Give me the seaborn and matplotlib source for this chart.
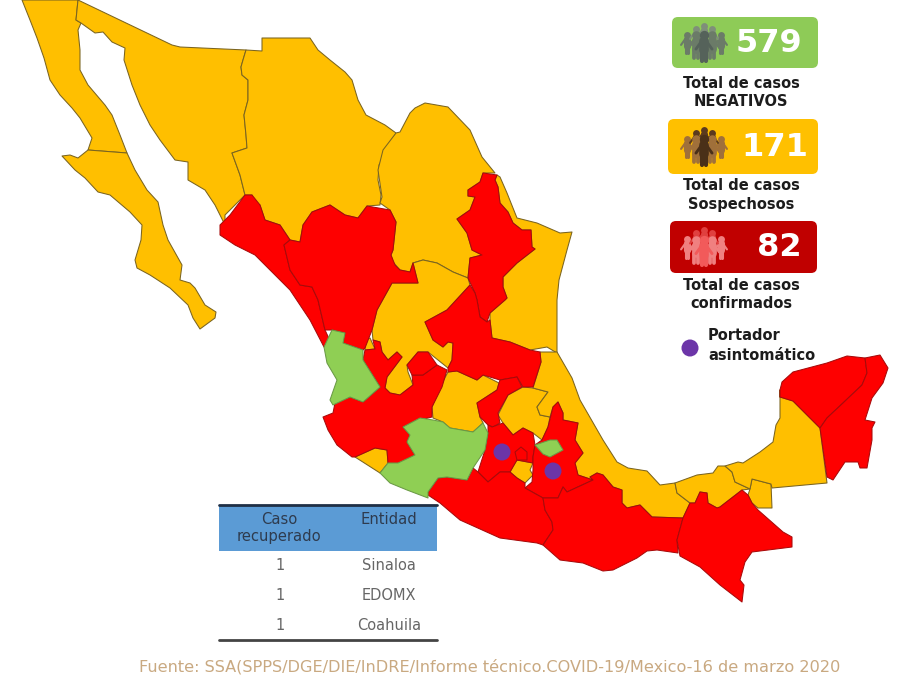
import pandas as pd
import matplotlib.pyplot as plt
from matplotlib.patches import FancyBboxPatch, Rectangle
import seaborn as sns

# estatus por estado
state_status = {
    'Baja California': 'sospechoso', 'Baja California Sur': 'sospechoso', 'Sonora': 'sospechoso',
    'Chihuahua': 'sospechoso', 'Coahuila': 'sospechoso', 'Tamaulipas': 'sospechoso',
    'Zacatecas': 'sospechoso', 'Zacatecas oeste': 'sospechoso', 'Guanajuato': 'sospechoso',
    'Hidalgo': 'sospechoso', 'Colima': 'sospechoso', 'Morelos': 'sospechoso',
    'Veracruz': 'sospechoso', 'Tabasco': 'sospechoso', 'Tabasco este': 'sospechoso',
    'Campeche': 'sospechoso', 'Sinaloa': 'confirmado', 'Durango': 'confirmado',
    'Nuevo Leon': 'confirmado', 'San Luis Potosi': 'confirmado', 'Jalisco': 'confirmado',
    'Aguascalientes': 'confirmado', 'Queretaro': 'confirmado', 'Edomex': 'confirmado',
    'CDMX': 'confirmado', 'Puebla': 'confirmado', 'Guerrero': 'confirmado', 'Oaxaca': 'confirmado',
    'Chiapas': 'confirmado', 'Yucatan': 'confirmado', 'Quintana Roo': 'confirmado',
    'Nayarit': 'negativo', 'Michoacan': 'negativo', 'Tlaxcala': 'negativo',
}

baja_california = [(22, 0), (30, 20), (37, 38), (44, 58), (50, 80), (60, 95), (72, 108), (80, 118), (92, 138), (88, 150),
                   (127, 153), (120, 135), (112, 115), (105, 105), (88, 85), (80, 70), (80, 50), (78, 30), (81, 23), (76, 20), (78, 0)]
baja_california_sur = [(62, 156), (70, 155), (78, 158), (88, 150), (127, 153), (135, 170), (147, 190), (158, 202), (163, 225),
                       (168, 240), (182, 265), (180, 280), (190, 283), (195, 288), (205, 305), (216, 312), (215, 318), (200, 329), (193, 318),
                       (188, 305), (170, 288), (150, 275), (137, 268), (135, 260), (141, 240), (142, 225), (130, 212),
                       (110, 195), (98, 192), (85, 178), (75, 170)]
sonora = [(78, 0), (172, 45), (180, 47), (246, 50), (243, 60), (241, 67), (242, 75), (248, 80), (248, 100), (244, 115),
          (246, 135), (247, 148), (232, 153), (240, 175), (245, 195), (225, 215), (225, 225), (215, 205), (205, 190),
          (188, 180), (188, 162), (175, 160), (160, 140), (150, 125), (140, 105), (132, 85), (124, 60), (125, 48),
          (112, 42), (103, 32), (95, 33), (81, 23), (76, 20)]
chihuahua = [(246, 50), (262, 51), (262, 38), (310, 38), (318, 50), (330, 60), (345, 72), (352, 80), (358, 100), (366, 115),
             (385, 125), (396, 133), (388, 150), (379, 165), (378, 180), (381, 195), (380, 205), (367, 206), (358, 218),
             (345, 215), (330, 205), (312, 212), (303, 225), (300, 242), (290, 240), (280, 225), (265, 220), (260, 205),
             (250, 200), (252, 195), (245, 195), (240, 175), (232, 153), (247, 148), (246, 135), (244, 115), (248, 100),
             (248, 80), (242, 75), (241, 67), (243, 60)]
sinaloa = [(245, 195), (252, 195), (260, 205), (265, 220), (280, 225), (290, 240), (284, 245), (290, 270), (300, 285),
           (312, 287), (318, 300), (325, 330), (332, 345), (324, 347), (310, 320), (290, 290), (270, 270), (255, 255), (235, 245),
           (220, 235), (220, 225), (230, 215)]
durango = [(312, 212), (330, 205), (345, 215), (358, 218), (367, 206), (390, 210), (396, 222), (393, 250), (391, 255),
           (395, 265), (400, 270), (410, 272), (413, 263), (418, 283), (392, 283), (377, 310), (372, 330), (365, 348),
           (363, 350), (343, 343), (345, 333), (332, 330), (325, 330), (318, 300), (312, 287), (300, 285), (290, 270),
           (284, 245), (290, 240), (300, 242), (303, 225)]
coahuila = [(396, 133), (400, 132), (410, 113), (415, 108), (425, 103), (448, 107), (470, 130), (482, 157), (495, 173),
            (483, 173), (480, 182), (468, 190), (468, 196), (475, 197), (470, 210), (457, 219), (467, 233), (472, 250),
            (482, 255), (470, 258), (468, 278), (453, 272), (437, 263), (423, 260), (413, 263), (410, 272), (400, 270),
            (393, 262), (391, 255), (393, 250), (396, 222), (390, 210), (380, 203), (382, 197), (378, 170), (383, 150)]
nuevo_leon = [(497, 175), (483, 173), (480, 182), (468, 190), (468, 196), (475, 197), (470, 210), (457, 219), (467, 233),
              (472, 250), (482, 255), (470, 258), (468, 278), (475, 293), (477, 300), (480, 317), (487, 322), (490, 313),
              (505, 300), (507, 298), (503, 287), (503, 277), (517, 263), (535, 249), (532, 247), (531, 230), (522, 230),
              (513, 223), (508, 212), (500, 203), (498, 187), (495, 180)]
tamaulipas = [(497, 175), (500, 177), (507, 193), (517, 218), (537, 223), (560, 233), (572, 232), (567, 250), (559, 280),
              (557, 300), (557, 330), (557, 353), (547, 347), (530, 350), (510, 342), (492, 338), (490, 320), (490, 313),
              (505, 300), (507, 298), (503, 287), (503, 277), (517, 263), (535, 249), (532, 247), (531, 230), (522, 230),
              (513, 223), (508, 212), (500, 203), (498, 187), (495, 180)]
zacatecas = [(372, 330), (377, 310), (392, 283), (418, 283), (413, 263), (423, 260), (437, 263), (453, 272), (468, 278),
             (470, 285), (447, 310), (425, 322), (433, 340), (443, 347), (448, 342), (453, 343), (452, 360), (448, 368),
             (428, 352), (418, 352), (407, 365), (408, 372), (413, 385), (400, 395), (390, 393), (385, 388), (387, 377),
             (402, 357), (397, 352), (388, 360), (382, 352), (380, 342), (373, 340)]
zacatecas_oeste = [(365, 340), (370, 338), (375, 349), (365, 350)]
san_luis_potosi = [(425, 322), (447, 310), (470, 285), (475, 293), (477, 300), (480, 317), (487, 322), (490, 320), (492, 338),
                   (510, 342), (530, 350), (540, 352), (541, 362), (533, 387), (523, 387), (517, 377), (500, 380), (483, 375),
                   (477, 380), (457, 371), (448, 372), (448, 368), (452, 360), (453, 343), (448, 342), (443, 347), (433, 340)]
nayarit = [(332, 330), (345, 333), (343, 343), (363, 350), (363, 360), (380, 387), (363, 402), (350, 397), (333, 405),
           (330, 400), (337, 380), (327, 363), (324, 347)]
jalisco = [(363, 360), (365, 350), (375, 349), (373, 340), (380, 342), (382, 352), (388, 360), (397, 352), (402, 357),
           (387, 377), (385, 388), (390, 393), (400, 395), (413, 385), (412, 375), (423, 375), (437, 365), (447, 370),
           (442, 387), (432, 407), (432, 417), (420, 420), (403, 427), (410, 435), (407, 442), (415, 455), (397, 465),
           (388, 463), (387, 450), (375, 448), (355, 457), (352, 457), (337, 445), (328, 430), (323, 417), (333, 413),
           (335, 403), (350, 397), (363, 402), (380, 387)]
aguascalientes = [(407, 365), (418, 352), (428, 352), (437, 365), (423, 375), (412, 375)]
colima = [(355, 457), (375, 448), (387, 450), (388, 463), (380, 473)]
michoacan = [(403, 427), (420, 418), (433, 420), (443, 422), (450, 428), (473, 432), (483, 423), (488, 433), (485, 450),
             (473, 468), (467, 480), (447, 477), (438, 478), (428, 492), (428, 498), (407, 490), (390, 483), (380, 473),
             (388, 463), (398, 463), (415, 455), (407, 442), (410, 435)]
guanajuato = [(432, 407), (440, 387), (448, 372), (457, 371), (477, 380), (483, 375), (499, 383), (497, 390), (477, 403),
              (480, 417), (483, 423), (473, 432), (450, 428), (443, 422), (433, 418)]
queretaro = [(499, 383), (500, 380), (517, 377), (522, 387), (508, 395), (498, 413), (500, 423), (493, 427), (488, 425),
             (483, 420), (480, 417), (477, 403), (497, 390)]
hidalgo = [(523, 387), (533, 388), (548, 392), (537, 407), (540, 415), (550, 417), (548, 427), (542, 440), (533, 433),
           (523, 428), (513, 435), (503, 423), (498, 415), (508, 395)]
puebla = [(558, 402), (563, 413), (563, 420), (578, 423), (575, 440), (583, 453), (575, 463), (578, 475), (593, 480),
          (567, 492), (563, 487), (558, 498), (543, 498), (525, 488), (532, 482), (533, 470), (533, 457), (535, 445),
          (542, 440), (548, 427), (553, 407)]
tlaxcala = [(535, 445), (550, 440), (557, 440), (563, 450), (550, 457), (543, 454)]
edomex = [(488, 425), (492, 427), (503, 423), (513, 435), (523, 428), (533, 433), (535, 445), (533, 457), (533, 463),
          (517, 460), (510, 472), (500, 472), (488, 482), (478, 472), (485, 450), (488, 433)]
cdmx = [(515, 452), (521, 447), (527, 452), (527, 460), (517, 460)]
morelos = [(517, 460), (533, 463), (530, 470), (533, 475), (525, 483), (517, 478), (510, 472), (515, 463)]
guerrero = [(428, 492), (438, 478), (447, 477), (467, 480), (473, 468), (478, 472), (488, 482), (500, 472), (510, 472),
            (517, 478), (525, 483), (525, 488), (543, 498), (545, 510), (552, 522), (553, 530), (543, 545), (537, 543),
            (500, 538), (460, 520), (440, 503), (428, 495)]
oaxaca = [(543, 498), (558, 498), (563, 487), (567, 492), (593, 480), (590, 477), (597, 473), (603, 475), (613, 487),
          (622, 490), (622, 503), (627, 508), (640, 505), (652, 517), (683, 518), (677, 540), (678, 553), (657, 550),
          (647, 551), (637, 558), (613, 570), (603, 571), (583, 563), (560, 560), (543, 545), (553, 530), (552, 522),
          (545, 510)]
veracruz = [(557, 352), (572, 378), (580, 400), (603, 440), (617, 462), (628, 468), (647, 471), (660, 485), (675, 483),
            (677, 493), (690, 503), (683, 518), (652, 517), (640, 505), (627, 508), (622, 503), (622, 490), (613, 487),
            (603, 475), (597, 473), (590, 477), (593, 480), (578, 475), (575, 463), (583, 453), (575, 440), (578, 423),
            (563, 420), (563, 413), (558, 402), (553, 407), (550, 417), (540, 415), (537, 407), (548, 392), (533, 388),
            (541, 362), (540, 352)]
tabasco = [(675, 483), (697, 475), (713, 473), (718, 466), (725, 466), (732, 472), (735, 482), (750, 489), (742, 490),
           (720, 507), (717, 508), (708, 503), (707, 493), (700, 492), (695, 503), (690, 503), (677, 493)]
tabasco_este = [(752, 479), (771, 484), (772, 508), (758, 508), (752, 503), (748, 495), (750, 489)]
chiapas = [(690, 503), (695, 503), (700, 492), (707, 493), (708, 503), (717, 508), (720, 507), (742, 490), (748, 495),
           (752, 503), (758, 510), (783, 532), (792, 537), (792, 547), (752, 552), (745, 562), (740, 580), (744, 585),
           (742, 602), (720, 585), (700, 567), (680, 556), (677, 540), (683, 518)]
campeche = [(780, 390), (780, 397), (793, 401), (820, 428), (827, 483), (772, 488), (771, 484), (752, 479), (750, 489),
            (735, 482), (732, 472), (725, 466), (738, 462), (743, 463), (760, 452), (773, 442), (776, 425), (780, 418)]
yucatan = [(780, 390), (782, 382), (793, 372), (827, 363), (847, 356), (865, 358), (867, 373), (862, 385), (843, 403),
           (827, 418), (820, 428), (793, 401), (780, 397)]
quintana_roo = [(865, 358), (880, 355), (888, 368), (883, 383), (872, 398), (865, 420), (875, 422), (872, 428), (872, 440),
                (867, 468), (860, 468), (858, 462), (845, 462), (833, 480), (827, 477), (820, 428), (827, 418), (843, 403),
                (862, 385), (867, 373)]

outlines = {
    'Baja California': baja_california, 'Baja California Sur': baja_california_sur, 'Sonora': sonora,
    'Chihuahua': chihuahua, 'Coahuila': coahuila, 'Tamaulipas': tamaulipas, 'Zacatecas': zacatecas,
    'Zacatecas oeste': zacatecas_oeste, 'Guanajuato': guanajuato, 'Hidalgo': hidalgo, 'Colima': colima,
    'Morelos': morelos, 'Veracruz': veracruz, 'Tabasco': tabasco, 'Tabasco este': tabasco_este,
    'Campeche': campeche, 'Sinaloa': sinaloa, 'Durango': durango, 'Nuevo Leon': nuevo_leon,
    'San Luis Potosi': san_luis_potosi, 'Jalisco': jalisco, 'Aguascalientes': aguascalientes,
    'Queretaro': queretaro, 'Edomex': edomex, 'CDMX': cdmx, 'Puebla': puebla, 'Guerrero': guerrero,
    'Oaxaca': oaxaca, 'Chiapas': chiapas, 'Yucatan': yucatan, 'Quintana Roo': quintana_roo,
    'Nayarit': nayarit, 'Michoacan': michoacan, 'Tlaxcala': tlaxcala,
}

# portadores asintomaticos
carrier_x = [502, 553]
carrier_y = [452, 471]

# totales
totals = ['579', '171', '82']
total_labels = [['Total de casos', 'NEGATIVOS'], ['Total de casos', 'Sospechosos'], ['Total de casos', 'confirmados']]

# tabla
table_headers = [['Caso', 'recuperado'], ['Entidad']]
recovered = ['1', '1', '1']
entities = ['Sinaloa', 'EDOMX', 'Coahuila']

fuente = 'Fuente: SSA(SPPS/DGE/DIE/InDRE/Informe técnico.COVID-19/Mexico-16 de marzo 2020'

sns.set_theme(style='white')
plt.rcParams['font.family'] = ['DejaVu Sans']

fill_colors = {'sospechoso': '#ffbf00', 'confirmado': '#fe0000', 'negativo': '#8fcf54'}
edge_colors = {'sospechoso': '#7a6420', 'confirmado': '#a80a0a', 'negativo': '#6a9a45'}

fig = plt.figure(figsize=(9.14, 6.75), dpi=100)
ax = fig.add_axes([0, 0, 1, 1])

# estados amarillos primero, rojos y verdes encima
order = sorted(outlines, key=lambda s: state_status[s] != 'sospechoso')
for state in order:
    status = state_status[state]
    xs = [p[0] for p in outlines[state]]
    ys = [p[1] for p in outlines[state]]
    ax.fill(xs, ys, facecolor=fill_colors[status], edgecolor=edge_colors[status], linewidth=0.75, joinstyle='round', zorder=2)

carriers = pd.DataFrame({'x': carrier_x + [690], 'y': carrier_y + [348]})
sns.scatterplot(data=carriers, x='x', y='y', ax=ax, s=150, color='#6c35a8', edgecolor='none', zorder=3, legend=False)
ax.set_xlim(0, 914)
ax.set_ylim(675, 0)
ax.axis('off')


def person(cx, cy, scale, color):
    ax.scatter([cx], [cy - 8 * scale], s=34 * scale ** 2, color=color, zorder=5, linewidths=0)
    ax.plot([cx, cx], [cy - 3 * scale, cy + 5 * scale], color=color, lw=6 * scale, solid_capstyle='round', zorder=5)
    for d in (-1.7, 1.7):
        ax.plot([cx + d * scale, cx + d * scale], [cy + 5 * scale, cy + 14 * scale], color=color, lw=2.6 * scale, zorder=5)
    for d in (-1, 1):
        ax.plot([cx + d * 2 * scale, cx + d * 7 * scale], [cy - 3 * scale, cy + 4 * scale], color=color, lw=1.8 * scale, zorder=5)


def crowd(cx, cy, back, mid, front):
    for dx, dy in [(-17, 1), (17, 1)]:
        person(cx + dx, cy + dy, 0.85, mid)
    for dx, dy in [(-8, -5), (8, -5), (0, -8)]:
        person(cx + dx, cy + dy, 0.85, back)
    for dx, dy in [(-8, 3), (8, 3)]:
        person(cx + dx, cy + dy, 1.05, mid)
    person(cx, cy + 4, 1.15, front)


# cuadros de totales
boxes = [(672, 17, 146, 51, '#8ecb57'), (668, 119, 150, 55, '#ffc000'), (670, 221, 147, 52, '#c00000')]
number_x = [769, 775, 779]
crowd_colors = [('#7f8f7a', '#6b7b68', '#55625a'), ('#5b3a1e', '#a0703a', '#4a3018'), ('#e0403f', '#f08080', '#f25a5a')]
label_y = [83, 186, 285]
for i, (x0, y0, w, h, col) in enumerate(boxes):
    ax.add_patch(FancyBboxPatch((x0 + 6, y0 + 6), w - 12, h - 12, boxstyle='round,pad=6', facecolor=col, edgecolor='none', zorder=4))
    ax.text(number_x[i], y0 + h / 2 + 1, totals[i], color='white', fontsize=23, fontweight='bold', ha='center', va='center', zorder=6)
    crowd(704, y0 + h / 2 - 2, *crowd_colors[i])
    for j, line in enumerate(total_labels[i]):
        ax.text(741, label_y[i] + j * 18.5, line, color='#1c1c1c', fontsize=10.5, fontweight='bold', ha='center', va='center')

ax.text(708, 336, 'Portador', color='#1c1c1c', fontsize=10.5, fontweight='bold', va='center')
ax.text(708, 355, 'asintomático', color='#1c1c1c', fontsize=10.5, fontweight='bold', va='center')

# tabla de recuperados
ax.add_patch(Rectangle((219, 505), 218, 46, facecolor='#5b9bd5', edgecolor='none', zorder=4))
ax.plot([219, 437], [504.5, 504.5], color='#1f2f45', lw=2, zorder=5)
ax.plot([219, 437], [640, 640], color='#444444', lw=2, zorder=5)
ax.text(279, 520, table_headers[0][0], color='#2e3b4e', fontsize=10.6, ha='center', va='center', zorder=6)
ax.text(279, 537, table_headers[0][1], color='#2e3b4e', fontsize=10.6, ha='center', va='center', zorder=6)
ax.text(389, 520, table_headers[1][0], color='#2e3b4e', fontsize=10.6, ha='center', va='center', zorder=6)
for i, y in enumerate([566, 596, 626]):
    ax.text(280, y, recovered[i], color='#666666', fontsize=10.5, ha='center', va='center')
    ax.text(389, y, entities[i], color='#666666', fontsize=10.5, ha='center', va='center')

ax.text(489.5, 667, fuente, color='#c9a981', fontsize=11.65, ha='center', va='center')

fig.savefig('out.png', dpi=100)
